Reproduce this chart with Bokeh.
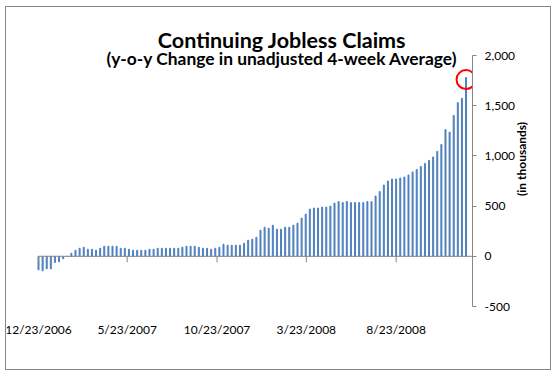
import datetime as dt
import math
from bokeh.plotting import figure
from bokeh.models import Range1d, FixedTicker, NumeralTickFormatter, Label
from bokeh.embed import file_html
from bokeh.resources import INLINE
from bokeh.core.properties import value

# ---- data ----
start_date = "12/23/2006"
end_date = "12/31/2008"
tick_labels = ["12/23/2006", "5/23/2007", "10/23/2007", "3/23/2008", "8/23/2008"]
claims_change = [
    -135, -145, -125, -125, -62, -55, -25, 0, 30, 60,
    80, 90, 70, 70, 60, 80, 100, 100, 100, 100,
    80, 80, 70, 60, 60, 60, 60, 70, 70, 80,
    80, 80, 80, 80, 80, 90, 100, 100, 100, 90,
    80, 80, 70, 80, 90, 120, 110, 110, 110, 110,
    130, 160, 170, 190, 260, 290, 280, 310, 270, 270,
    290, 290, 310, 330, 380, 420, 470, 480, 480, 490,
    490, 500, 530, 545, 535, 545, 535, 535, 535, 535,
    545, 545, 600, 645, 710, 750, 770, 770, 780, 790,
    810, 840, 865, 895, 925, 955, 990, 1045, 1113, 1263,
    1237, 1403, 1530, 1573, 1780,
]
y_ticks = [-500, 0, 500, 1000, 1500, 2000]
title_text = "Continuing Jobless Claims"
subtitle_text = "(y-o-y Change in unadjusted 4-week Average)"
y_label_text = "(in thousands)"

def parse(s):
    return dt.datetime.strptime(s, "%m/%d/%Y")

d0 = parse(start_date)
week_days = [7 * i for i in range(len(claims_change))]
tick_days = [(parse(s) - d0).days for s in tick_labels]
x_end = (parse(end_date) - d0).days

BLUE = "#4F81BD"
GREY = "#868686"
FONT = "Lato"

W, H = 546, 364
OX, OY = 6, 7                     # page position of the canvas content
RIGHT = 80                        # right panel (value axis) width
TOP = 13                          # empty band above the plotting frame
# horizontal scale: date axis runs from page x=38 to page x=472
px_per_day = (472 - 38) / x_end
x_start = -(38 - OX) / px_per_day
# vertical scale: 2,000 at page y=55, -500 at page y=306
y_min, y_max = y_ticks[0], y_ticks[-1]
units_per_px = (y_max - y_min) / 251
y_top = y_max + (55 - OY - TOP) * units_per_px
y_bot = y_min - (OY + H - 306) * units_per_px

def y_at(page_y):
    return y_max - (page_y - 55) * units_per_px

p = figure(width=W, height=H, output_backend="svg", toolbar_location=None,
           x_range=Range1d(x_start, x_end), y_range=Range1d(y_bot, y_top),
           min_border_left=0, min_border_right=RIGHT, min_border_top=TOP, min_border_bottom=0,
           y_axis_location="right", x_axis_location=None, title=None)
p.margin = (6, 0, 0, 5)
p.outline_line_color = None
p.grid.visible = False
p.background_fill_color = "white"
p.border_fill_color = "white"
p.styles = {"border": "1px solid #868686"}

# bars
p.vbar(x=week_days, top=claims_change, bottom=0, width=1.7, color=BLUE)

# category axis line along zero, with its tick marks
p.segment(x0=[0], y0=[0], x1=[x_end], y1=[0], line_color=GREY, line_width=1)
p.segment(x0=tick_days, y0=[0] * len(tick_days), x1=tick_days, y1=[-60] * len(tick_days),
          line_color=GREY, line_width=1)

# category (date) labels at the bottom ("low" label position)
p.text(x=tick_days, y=[y_at(329)] * len(tick_days), text=tick_labels,
       text_align="center", text_baseline="middle", text_font=value(FONT),
       text_font_size="12px", text_color="black")

# right value axis
ya = p.yaxis[0]
ya.ticker = FixedTicker(ticks=y_ticks)
ya.formatter = NumeralTickFormatter(format="0,0")
ya.bounds = (y_min, y_max)
ya.axis_line_color = GREY
ya.major_tick_line_color = GREY
ya.major_tick_out = 4
ya.major_tick_in = 0
ya.minor_tick_line_color = None
ya.major_label_standoff = 8
ya.major_label_text_font = FONT
ya.major_label_text_font_size = "12px"
ya.major_label_text_color = "black"
ya.axis_label = y_label_text
ya.axis_label_text_font = FONT
ya.axis_label_text_font_style = "bold"
ya.axis_label_text_font_size = "12px"
ya.axis_label_text_color = "black"
ya.axis_label_standoff = 3
if "axis_label_orientation" in ya.properties():
    ya.axis_label_orientation = math.pi / 2

# titles (canvas units)
p.add_layout(Label(x=280.5 - OX, y=38 - OY, x_units="canvas", y_units="canvas",
                   text=title_text, text_align="center",
                   text_baseline="alphabetic", text_font=FONT, text_font_style="bold",
                   text_font_size="21.5px", text_color="black"))
p.add_layout(Label(x=280.5 - OX, y=56.5 - OY, x_units="canvas", y_units="canvas",
                   text=subtitle_text, text_align="center",
                   text_baseline="alphabetic", text_font=FONT, text_font_style="bold",
                   text_font_size="17.4px", text_color="black"))

# red highlight circle on the latest value
p.scatter(x=[week_days[-1]], y=[claims_change[-1] - 20], marker="circle", size=19,
          fill_color=None, line_color="red", line_width=2)

open("out.html", "w").write(file_html(p, INLINE))
